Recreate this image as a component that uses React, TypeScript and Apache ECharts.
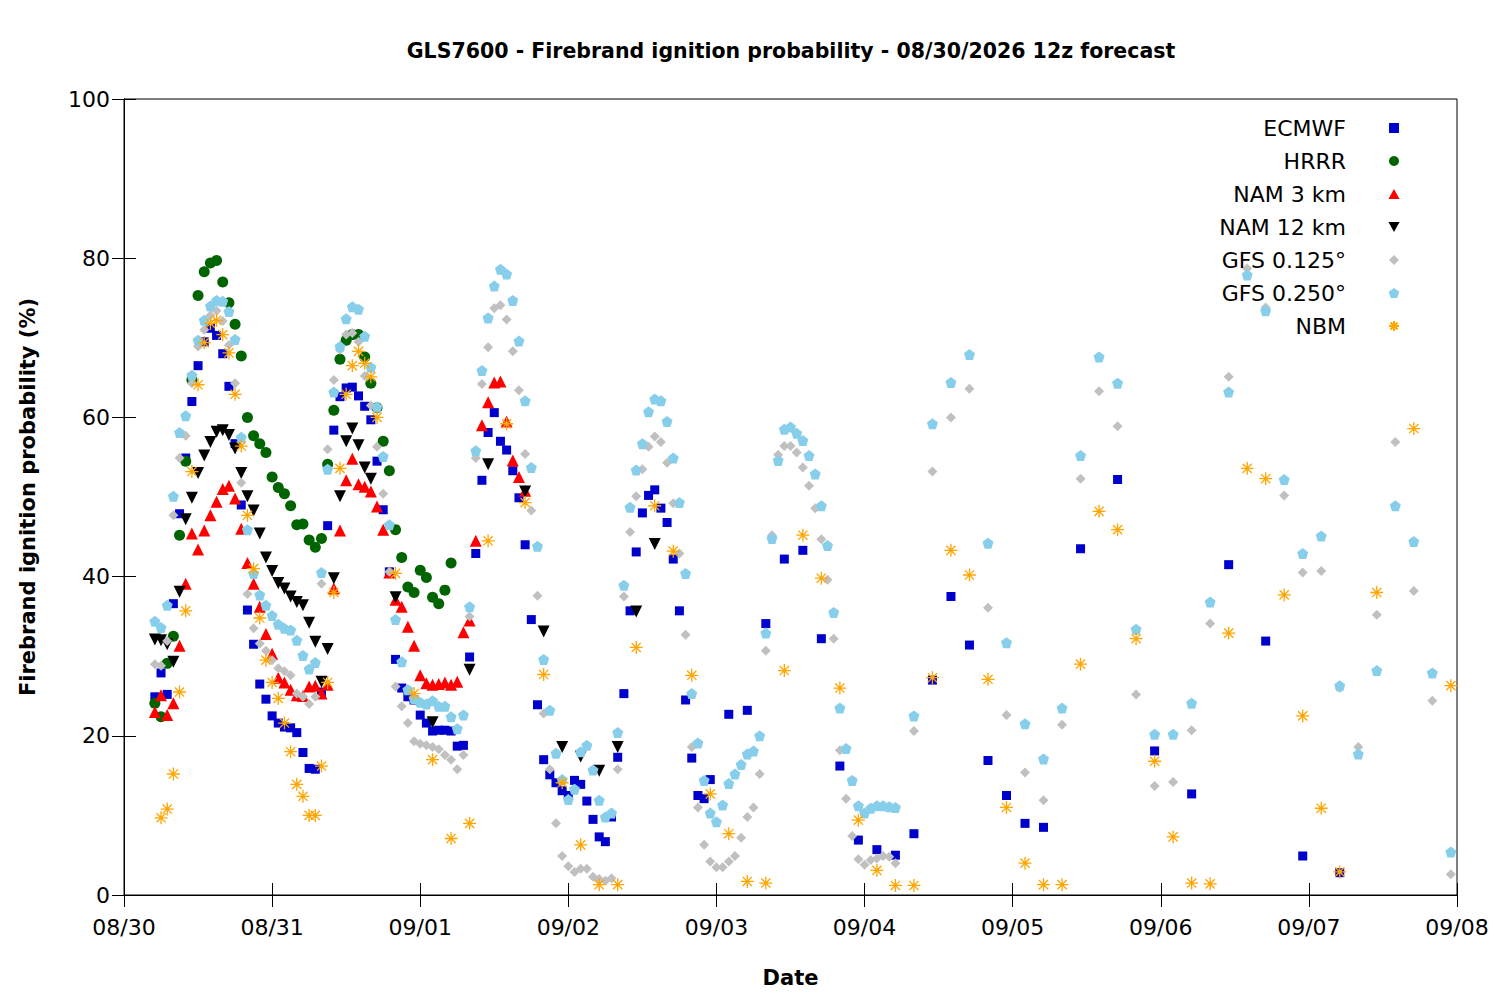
import React, { useEffect, useRef } from "react";
import * as echarts from "echarts";

// hours since 08/30 00 local, value = ignition probability (%)
const DAY_LABELS = ["08/30", "08/31", "09/01", "09/02", "09/03", "09/04", "09/05", "09/06", "09/07", "09/08"];

const ECMWF: [number, number][] = [
  [5, 24.9], [6, 27.9], [7, 25.2], [8, 36.6], [9, 47.9], [10, 54.9], [11, 62.0], [12, 66.5], [13, 69.5], [14, 71.2],
  [15, 70.3], [16, 68.0], [17, 63.9], [18, 56.7], [19, 49.0], [20, 35.8], [21, 31.5], [22, 26.5], [23, 24.6], [24, 22.5],
  [25, 21.6], [26, 21.1], [27, 21.0], [28, 20.4], [29, 17.9], [30, 15.9], [31, 15.8], [32, 25.5], [33, 46.4], [34, 58.4],
  [35, 62.6], [36, 63.7], [37, 63.8], [38, 62.7], [39, 61.4], [40, 59.7], [41, 54.5], [42, 48.4], [43, 40.6], [44, 29.6],
  [45, 26.0], [46, 24.9], [47, 24.5], [48, 22.6], [49, 21.6], [50, 20.6], [51, 20.7], [52, 20.7], [53, 20.6], [54, 18.7],
  [55, 18.8], [56, 29.9], [57, 42.9], [58, 52.1], [59, 58.1], [60, 60.6], [61, 57.0], [62, 55.9], [63, 53.3], [64, 49.9],
  [65, 44.0], [66, 34.6], [67, 23.9], [68, 17.0], [69, 15.1], [70, 14.1], [71, 13.1], [72, 12.5], [73, 14.4], [74, 13.9],
  [75, 11.8], [76, 9.5], [77, 7.3], [78, 6.7], [79, 9.8], [80, 17.3], [81, 25.3], [82, 35.7], [83, 43.1], [84, 48.0],
  [85, 50.2], [86, 50.9], [87, 48.6], [88, 46.8], [89, 42.2], [90, 35.7], [91, 24.5], [92, 17.2], [93, 12.5], [94, 12.1],
  [95, 14.5], [98, 22.7], [101, 23.2], [104, 34.1], [107, 42.2], [110, 43.3], [113, 32.2], [116, 16.2], [119, 6.9],
  [122, 5.7], [125, 5.0], [128, 7.7], [131, 27.0], [134, 37.5], [137, 31.4], [140, 16.9], [143, 12.5], [146, 9.0],
  [149, 8.5], [155, 43.5], [161, 52.2], [167, 18.1], [173, 12.7], [179, 41.5], [185, 31.9], [191, 4.9], [197, 2.8],
];

const HRRR: [number, number][] = [
  [5, 24.1], [6, 22.4], [7, 29.1], [8, 32.5], [9, 45.2], [10, 54.5], [11, 64.7], [12, 75.3], [13, 78.3], [14, 79.4],
  [15, 79.7], [16, 77.0], [17, 74.4], [18, 71.7], [19, 67.7], [20, 60.0], [21, 57.7], [22, 56.7], [23, 55.6], [24, 52.5],
  [25, 51.2], [26, 50.4], [27, 48.9], [28, 46.5], [29, 46.6], [30, 44.6], [31, 43.7], [32, 44.8], [33, 54.1], [34, 60.9],
  [35, 67.3], [36, 69.7], [37, 70.4], [38, 70.4], [39, 67.6], [40, 64.3], [41, 61.2], [42, 57.0], [43, 53.3], [44, 45.9],
  [45, 42.4], [46, 38.7], [47, 38.0], [48, 40.8], [49, 39.9], [50, 37.4], [51, 36.6], [52, 38.3], [53, 41.7],
];

const NAM_3KM: [number, number][] = [
  [5, 23.0], [6, 25.1], [7, 22.6], [8, 24.1], [9, 31.3], [10, 39.1], [11, 45.4], [12, 43.4], [13, 45.8], [14, 47.7],
  [15, 49.4], [16, 51.0], [17, 51.4], [18, 49.8], [19, 46.0], [20, 41.7], [21, 39.1], [22, 36.2], [23, 32.8], [24, 30.3],
  [25, 27.3], [26, 26.7], [27, 25.8], [28, 25.1], [29, 25.0], [30, 26.2], [31, 26.3], [32, 25.3], [33, 26.4], [34, 38.5],
  [35, 45.8], [36, 52.1], [37, 54.8], [38, 51.6], [39, 51.3], [40, 50.7], [41, 48.8], [42, 45.9], [43, 40.5], [44, 37.1],
  [45, 36.2], [46, 33.7], [47, 31.3], [48, 27.6], [49, 26.6], [50, 26.4], [51, 26.5], [52, 26.7], [53, 26.4], [54, 26.8],
  [55, 33.0], [56, 34.5], [57, 44.5], [58, 59.0], [59, 61.9], [60, 64.4], [61, 64.5], [62, 59.5], [63, 54.6], [64, 52.5],
  [65, 50.8],
];

const NAM_12KM: [number, number][] = [
  [5, 32.1], [6, 32.0], [7, 31.5], [8, 29.3], [9, 38.1], [10, 47.2], [11, 49.9], [12, 53.0], [13, 55.2], [14, 56.9],
  [15, 58.2], [16, 58.4], [17, 57.8], [18, 56.1], [19, 53.0], [20, 50.1], [21, 48.3], [22, 45.4], [23, 42.4], [24, 40.7],
  [25, 39.2], [26, 38.5], [27, 37.5], [28, 36.8], [29, 36.4], [30, 34.2], [31, 31.8], [32, 26.8], [33, 30.9], [34, 39.8],
  [35, 50.1], [36, 57.0], [37, 58.6], [38, 56.5], [39, 53.7], [40, 52.3], [44, 37.4], [50, 21.7], [56, 28.3], [59, 54.1],
  [65, 50.7], [68, 33.1], [71, 18.6], [74, 17.4], [77, 15.6], [80, 18.6], [83, 35.6], [86, 44.1],
];

const GFS_0125: [number, number][] = [
  [5, 29.0], [6, 28.8], [7, 31.9], [8, 47.7], [9, 54.9], [10, 57.7], [11, 64.3], [12, 68.9], [13, 71.0], [14, 72.8],
  [15, 73.4], [16, 72.1], [17, 69.1], [18, 64.3], [19, 51.8], [20, 37.8], [21, 33.5], [22, 31.6], [23, 30.7], [24, 29.5],
  [25, 28.5], [26, 28.1], [27, 27.6], [28, 25.3], [29, 24.9], [30, 24.0], [31, 24.9], [32, 39.1], [33, 56.0], [34, 64.7],
  [35, 68.5], [36, 70.4], [37, 70.6], [38, 69.5], [39, 65.2], [40, 61.5], [41, 56.3], [42, 50.4], [43, 40.6], [44, 26.2],
  [45, 23.7], [46, 21.6], [47, 19.3], [48, 19.0], [49, 18.8], [50, 18.6], [51, 18.3], [52, 17.6], [53, 17.0], [54, 15.8],
  [55, 17.6], [56, 35.0], [57, 54.9], [58, 64.2], [59, 68.8], [60, 73.7], [61, 74.1], [62, 72.3], [63, 68.3], [64, 63.4],
  [65, 55.4], [66, 48.3], [67, 37.6], [68, 22.8], [69, 15.8], [70, 9.0], [71, 4.9], [72, 3.6], [73, 2.9], [74, 3.3],
  [75, 3.3], [76, 2.3], [77, 2.0], [78, 1.8], [79, 2.1], [80, 15.8], [81, 37.5], [82, 45.6], [83, 50.1], [84, 53.5],
  [85, 56.3], [86, 57.6], [87, 56.9], [88, 54.3], [89, 49.2], [90, 42.9], [91, 32.7], [92, 18.6], [93, 11.0], [94, 6.3],
  [95, 4.2], [96, 3.5], [97, 3.5], [98, 4.2], [99, 4.9], [100, 7.2], [101, 9.8], [102, 11.0], [103, 15.2], [104, 30.7],
  [105, 45.2], [106, 55.3], [107, 56.4], [108, 56.4], [109, 55.6], [110, 53.7], [111, 51.4], [112, 48.6], [113, 44.7],
  [114, 39.6], [115, 32.2], [116, 18.2], [117, 12.1], [118, 7.4], [119, 4.5], [120, 3.8], [121, 4.4], [122, 4.6],
  [123, 4.9], [124, 4.8], [125, 4.0], [128, 20.6], [131, 53.2], [134, 60.0], [137, 63.6], [140, 36.1], [143, 22.6],
  [146, 15.4], [149, 11.9], [152, 21.4], [155, 52.3], [158, 63.3], [161, 58.9], [164, 25.2], [167, 13.7], [170, 14.2],
  [173, 20.7], [176, 34.1], [179, 65.1], [182, 78.7], [185, 73.8], [188, 50.2], [191, 40.5], [194, 40.7], [197, 26.0],
  [200, 18.6], [203, 35.2], [206, 56.9], [209, 38.2], [212, 24.4], [215, 2.6],
];

const GFS_0250: [number, number][] = [
  [5, 34.4], [6, 33.6], [7, 36.4], [8, 50.1], [9, 58.1], [10, 60.2], [11, 65.3], [12, 69.7], [13, 72.2], [14, 74.0],
  [15, 74.7], [16, 74.6], [17, 73.3], [18, 69.8], [19, 57.5], [20, 45.9], [21, 40.4], [22, 37.7], [23, 36.4], [24, 35.1],
  [25, 34.0], [26, 33.5], [27, 33.3], [28, 32.0], [29, 30.1], [30, 28.4], [31, 29.2], [32, 40.5], [33, 53.5], [34, 63.2],
  [35, 68.9], [36, 72.4], [37, 73.9], [38, 73.6], [39, 70.2], [40, 66.3], [41, 61.3], [42, 55.1], [43, 46.5], [44, 34.6],
  [45, 29.3], [46, 25.8], [47, 24.7], [48, 24.2], [49, 24.0], [50, 24.4], [51, 23.7], [52, 23.7], [53, 22.4], [54, 20.9],
  [55, 22.6], [56, 36.2], [57, 55.8], [58, 65.9], [59, 72.5], [60, 76.5], [61, 78.6], [62, 78.0], [63, 74.7], [64, 69.6],
  [65, 62.1], [66, 53.7], [67, 43.8], [68, 29.6], [69, 23.2], [70, 17.8], [71, 14.5], [72, 12.0], [73, 13.3], [74, 18.0],
  [75, 18.8], [76, 15.7], [77, 11.9], [78, 9.8], [79, 10.3], [80, 20.4], [81, 38.9], [82, 48.7], [83, 53.4], [84, 56.7],
  [85, 60.7], [86, 62.3], [87, 62.1], [88, 59.5], [89, 54.9], [90, 49.3], [91, 40.4], [92, 25.3], [93, 19.1], [94, 14.4],
  [95, 10.3], [96, 9.2], [97, 11.3], [98, 14.0], [99, 15.2], [100, 16.4], [101, 17.7], [102, 18.1], [103, 20.0],
  [104, 32.9], [105, 44.8], [106, 54.6], [107, 58.5], [108, 58.8], [109, 58.0], [110, 57.1], [111, 55.2], [112, 52.9],
  [113, 48.9], [114, 43.9], [115, 35.5], [116, 23.5], [117, 18.4], [118, 14.4], [119, 11.2], [120, 10.3], [121, 10.9],
  [122, 11.2], [123, 11.2], [124, 11.1], [125, 11.0], [128, 22.5], [131, 59.2], [134, 64.4], [137, 67.9], [140, 44.2],
  [143, 31.7], [146, 21.5], [149, 17.1], [152, 23.5], [155, 55.2], [158, 67.6], [161, 64.3], [164, 33.4], [167, 20.2],
  [170, 20.2], [173, 24.1], [176, 36.8], [179, 63.2], [182, 77.9], [185, 73.4], [188, 52.2], [191, 42.9], [194, 45.1],
  [197, 26.3], [200, 17.7], [203, 28.2], [206, 48.9], [209, 44.4], [212, 27.9], [215, 5.4],
];

const NBM: [number, number][] = [
  [6, 9.7], [7, 10.8], [8, 15.2], [9, 25.5], [10, 35.7], [11, 53.2], [12, 64.1], [13, 69.4], [14, 71.8], [15, 72.2],
  [16, 70.4], [17, 68.1], [18, 62.9], [19, 56.4], [20, 47.7], [21, 41.0], [22, 34.8], [23, 29.5], [24, 26.7], [25, 24.7],
  [26, 21.6], [27, 18.0], [28, 13.9], [29, 12.4], [30, 10.0], [31, 10.0], [32, 16.2], [33, 26.7], [34, 38.0], [35, 53.6],
  [36, 62.9], [37, 66.5], [38, 68.3], [39, 66.8], [40, 65.1], [41, 60.0], [44, 40.4], [47, 25.3], [50, 17.0], [53, 7.1],
  [56, 9.0], [59, 44.5], [62, 59.2], [65, 49.3], [68, 27.7], [71, 14.1], [74, 6.3], [77, 1.3], [80, 1.3], [83, 31.1],
  [86, 48.9], [89, 43.2], [92, 27.6], [95, 12.7], [98, 7.7], [101, 1.7], [104, 1.5], [107, 28.2], [110, 45.2], [113, 39.8],
  [116, 26.0], [119, 9.4], [122, 3.1], [125, 1.2], [128, 1.2], [131, 27.3], [134, 43.3], [137, 40.2], [140, 27.1],
  [143, 11.0], [146, 4.0], [149, 1.3], [152, 1.3], [155, 29.0], [158, 48.2], [161, 45.9], [164, 32.2], [167, 16.8],
  [170, 7.3], [173, 1.5], [176, 1.4], [179, 32.9], [182, 53.6], [185, 52.3], [188, 37.7], [191, 22.5], [194, 10.9],
  [197, 2.9], [203, 38.0], [209, 58.6], [215, 26.3],
];

// marker shapes (built-in symbols stretch in the legend, so the legend gets paths)
const SQUARE = "path://M0,0L10,0L10,10L0,10Z";
const TRIANGLE_UP = "path://M5,0L10,9L0,9Z";
const TRIANGLE_DOWN = "path://M0,0L10,0L5,9Z";
const DIAMOND = "path://M5,0L10,5L5,10L0,5Z";
const PENTAGON = "path://M0,-10L9.51,-3.09L5.88,8.09L-5.88,8.09L-9.51,-3.09Z";
const ASTERISK = "path://M0,-10L0,10M-10,0L10,0M-7.07,-7.07L7.07,7.07M-7.07,7.07L7.07,-7.07";

const FONT = "'DejaVu Sans', sans-serif";

const App: React.FC = () => {
  const chartRef = useRef<HTMLDivElement>(null);

  useEffect(() => {
    if (!chartRef.current) return;
    const chart = echarts.init(chartRef.current, undefined, { renderer: "svg" });

    const scatter = (name: string, data: [number, number][], extra: any) => ({
      name,
      type: "scatter",
      data,
      ...extra,
    });

    chart.setOption({
      animation: false,
      textStyle: { fontFamily: FONT },
      title: {
        text: "GLS7600 - Firebrand ignition probability - 08/30/2026 12z forecast",
        left: 786,
        top: 35,
        textAlign: "center",
        textStyle: { fontSize: 20.5, fontWeight: "bold", color: "#000", fontFamily: FONT },
      },
      legend: {
        orient: "vertical",
        align: "right",
        right: 100,
        top: 117,
        padding: 0,
        itemWidth: 86,
        itemHeight: 10,
        itemGap: 11,
        selectedMode: false,
        textStyle: { fontSize: 22, lineHeight: 22, color: "#000", fontFamily: FONT },
        data: [
          { name: "ECMWF", icon: SQUARE },
          { name: "HRRR", icon: "circle" },
          { name: "NAM 3 km", icon: TRIANGLE_UP },
          { name: "NAM 12 km", icon: TRIANGLE_DOWN },
          { name: "GFS 0.125°", icon: DIAMOND },
          { name: "GFS 0.250°", icon: PENTAGON },
          { name: "NBM", icon: ASTERISK },
        ],
      },
      grid: {
        left: 124,
        right: 43,
        top: 99,
        bottom: 105,
        show: true,
        borderColor: "#000",
        borderWidth: 1,
      },
      xAxis: [
        {
          type: "value",
          min: 0,
          max: 216,
          interval: 24,
          name: "Date",
          nameLocation: "middle",
          nameGap: 72,
          nameTextStyle: { fontSize: 21, fontWeight: "bold", color: "#000", fontFamily: FONT },
          axisLine: { lineStyle: { color: "#000" } },
          axisTick: { inside: true, length: 12, lineStyle: { color: "#000" } },
          axisLabel: {
            fontSize: 22,
            color: "#000",
            margin: 21,
            formatter: (v: number) => DAY_LABELS[Math.round(v / 24)] ?? "",
          },
          splitLine: { show: false },
        },
        {
          type: "value",
          position: "top",
          min: 0,
          max: 216,
          interval: 24,
          axisLine: { lineStyle: { color: "#000" } },
          axisTick: { inside: true, length: 12, lineStyle: { color: "#000" } },
          axisLabel: { show: false },
          splitLine: { show: false },
        },
      ],
      yAxis: [
        {
          type: "value",
          min: 0,
          max: 100,
          interval: 20,
          name: "Firebrand ignition probability (%)",
          nameLocation: "middle",
          nameGap: 86,
          nameTextStyle: { fontSize: 21, fontWeight: "bold", color: "#000", fontFamily: FONT },
          axisLine: { show: true, lineStyle: { color: "#000" } },
          axisTick: { show: true, inside: true, length: 12, lineStyle: { color: "#000" } },
          axisLabel: { fontSize: 22, color: "#000", margin: 14 },
          splitLine: { show: false },
        },
        {
          type: "value",
          position: "right",
          min: 0,
          max: 100,
          interval: 20,
          axisLine: { show: true, lineStyle: { color: "#000" } },
          axisTick: { show: true, inside: true, length: 12, lineStyle: { color: "#000" } },
          axisLabel: { show: false },
          splitLine: { show: false },
        },
      ],
      series: [
        scatter("ECMWF", ECMWF, { symbol: "rect", symbolSize: 9, itemStyle: { color: "#0000cd", opacity: 1 } }),
        scatter("HRRR", HRRR, { symbol: "circle", symbolSize: 11, itemStyle: { color: "#006400", opacity: 1 } }),
        scatter("NAM 3 km", NAM_3KM, {
          symbol: "triangle",
          symbolSize: 12,
          itemStyle: { color: "#ff0000", opacity: 1 },
        }),
        scatter("NAM 12 km", NAM_12KM, {
          symbol: "triangle",
          symbolSize: 12,
          symbolRotate: 180,
          itemStyle: { color: "#000000", opacity: 1 },
        }),
        scatter("GFS 0.125°", GFS_0125, {
          symbol: "diamond",
          symbolSize: 10,
          itemStyle: { color: "#c0c0c0", opacity: 1 },
        }),
        scatter("GFS 0.250°", GFS_0250, {
          symbol: PENTAGON,
          symbolSize: 11,
          itemStyle: { color: "#87ceeb", opacity: 1 },
        }),
        scatter("NBM", NBM, {
          symbol: ASTERISK,
          symbolSize: 13,
          itemStyle: { color: "rgba(0,0,0,0)", borderColor: "#ffa500", borderWidth: 1.3, opacity: 1 },
        }),
      ],
    });

    return () => chart.dispose();
  }, []);

  return (
    <div
      ref={chartRef}
      style={{ position: "absolute", left: 0, top: 0, width: 1500, height: 1000, background: "#fff" }}
    />
  );
};

export default App;
